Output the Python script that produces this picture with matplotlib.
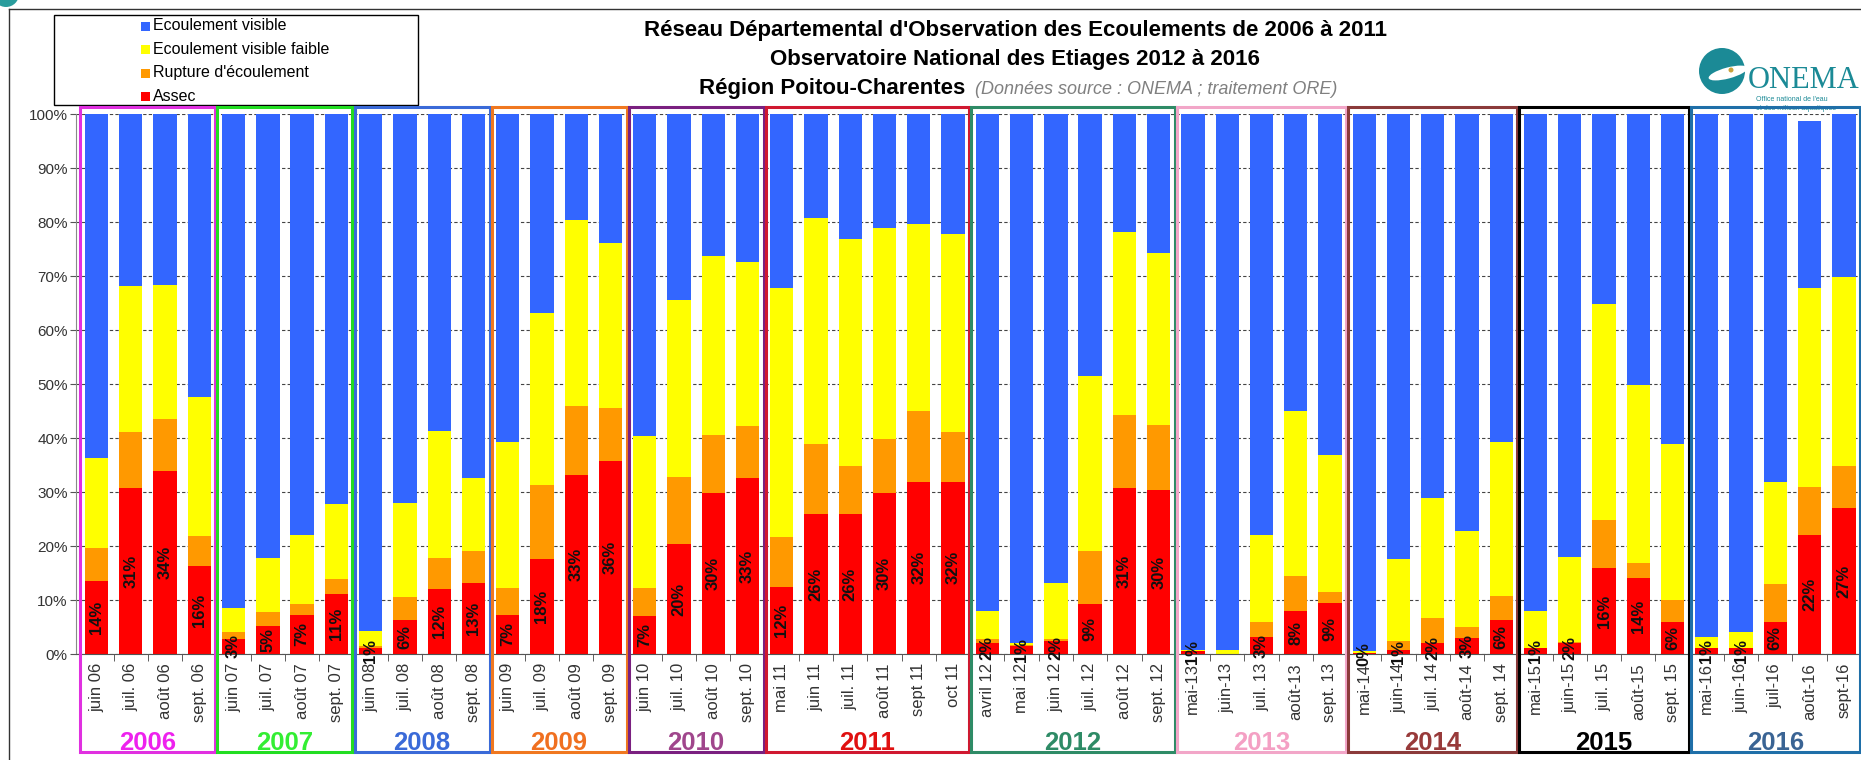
import matplotlib
matplotlib.use('Agg')
import matplotlib.pyplot as plt
import matplotlib.transforms as mtransforms
from matplotlib import font_manager
from matplotlib.patches import Rectangle, Circle, Ellipse
import numpy as np

plt.rcParams['font.family'] = ['Liberation Sans', 'DejaVu Sans']

# month labels (x axis)
months = ['juin 06', 'juil. 06', 'août 06', 'sept. 06',
          'juin 07', 'juil. 07', 'août 07', 'sept. 07',
          'juin 08', 'juil. 08', 'août 08', 'sept. 08',
          'juin 09', 'juil. 09', 'août 09', 'sept. 09',
          'juin 10', 'juil. 10', 'août 10', 'sept. 10',
          'mai 11', 'juin 11', 'juil. 11', 'août 11', 'sept 11', 'oct 11',
          'avril 12', 'mai 12', 'juin 12', 'juil. 12', 'août 12', 'sept. 12',
          'mai-13', 'juin-13', 'juil. 13', 'août-13', 'sept. 13',
          'mai-14', 'juin-14', 'juil. 14', 'août-14', 'sept. 14',
          'mai-15', 'juin-15', 'juil. 15', 'août-15', 'sept. 15',
          'mai-16', 'juin-16', 'juil-16', 'août-16', 'sept-16']

# shares in % (bottom to top: assec, rupture, faible, visible)
assec = [13.6, 30.7, 33.9, 16.3, 2.8, 5.2, 7.3, 11.1, 1.2, 6.3, 12.0, 13.2,
         7.3, 17.6, 33.1, 35.7, 7.1, 20.3, 29.8, 32.6,
         12.4, 25.9, 25.9, 29.9, 31.9, 31.9,
         2.1, 1.4, 2.4, 9.3, 30.7, 30.3,
         0.6, 0.0, 3.1, 7.9, 9.4,
         0.1, 0.8, 2.1, 2.9, 6.3,
         1.1, 2.1, 15.9, 14.0, 5.9,
         1.1, 1.1, 5.9, 22.0, 27.0]
rupture = [6.1, 10.4, 9.7, 5.5, 1.3, 2.6, 1.9, 2.8, 0.2, 4.2, 5.8, 5.8,
           4.9, 13.7, 12.9, 9.9, 5.1, 12.5, 10.8, 9.6,
           9.2, 13.0, 9.0, 10.0, 13.1, 9.3,
           0.7, 0.2, 0.4, 9.7, 13.5, 12.1,
           0.0, 0.0, 2.8, 6.6, 2.0,
           0.0, 1.6, 4.6, 2.1, 4.4,
           0.1, 0.1, 9.0, 2.9, 4.1,
           0.1, 0.1, 7.1, 8.9, 7.9]
faible = [16.6, 27.1, 24.8, 25.8, 4.5, 10.0, 12.9, 13.8, 2.9, 17.5, 23.5, 13.6,
          27.1, 31.8, 34.4, 30.6, 28.1, 32.7, 33.1, 30.4,
          46.1, 41.8, 41.9, 38.9, 34.7, 36.6,
          5.1, 0.5, 10.4, 32.5, 33.9, 31.9,
          0.1, 0.7, 16.1, 30.5, 25.4,
          0.5, 15.2, 22.1, 17.8, 28.6,
          6.7, 15.8, 40.0, 32.9, 28.9,
          1.9, 2.9, 18.9, 36.9, 35.0]
visible = [63.7, 31.8, 31.6, 52.4, 91.4, 82.2, 77.9, 72.3, 95.7, 72.0, 58.7, 67.4,
           60.7, 36.9, 19.6, 23.8, 59.7, 34.5, 26.3, 27.4,
           32.3, 19.3, 23.2, 21.2, 20.3, 22.2,
           92.1, 97.9, 86.8, 48.5, 21.9, 25.7,
           99.3, 99.3, 78.0, 55.0, 63.2,
           99.4, 82.4, 71.2, 77.2, 60.7,
           92.1, 82.0, 35.1, 50.2, 61.1,
           96.9, 95.9, 68.1, 30.9, 30.1]

years = ['2006', '2007', '2008', '2009', '2010', '2011', '2012', '2013', '2014', '2015', '2016']
year_sizes = [4, 4, 4, 4, 4, 6, 6, 5, 5, 5, 5]
year_edge = ['#E030E0', '#22DD22', '#3A6AD8', '#F07820', '#7A2080', '#D01830',
             '#2E8B66', '#F2A6C8', '#8B3A3A', '#000000', '#1F6FA8']
year_text = ['#EE22EE', '#33EE33', '#3A6AD8', '#F07020', '#A0468C', '#E01010',
             '#2E8B66', '#F4A0C4', '#983A3A', '#000000', '#3A6494']

series_names = ['Ecoulement visible', 'Ecoulement visible faible', "Rupture d'écoulement", 'Assec']
series_colors = ['#3366FF', '#FFFF00', '#FF9900', '#FF0000']

W, H = 1861, 760
fig = plt.figure(figsize=(W / 100, H / 100), dpi=100)

# decoration layer in pixel coordinates
deco = fig.add_axes([0, 0, 1, 1], zorder=0)
deco.set_xlim(0, W)
deco.set_ylim(H, 0)
deco.axis('off')

ax = fig.add_axes([76 / W, 106 / H, 1 - 76 / W, 540 / H], zorder=1)

x = np.arange(len(months))
bottom = np.zeros(len(months))
for vals, col in zip([assec, rupture, faible, visible], series_colors[::-1]):
    ax.bar(x, vals, 0.68, bottom=bottom, color=col, zorder=2)
    bottom += np.array(vals)

installed = {f.name for f in font_manager.fontManager.ttflist}
if 'Liberation Sans Narrow' in installed:
    lab_font, lab_size = 'Liberation Sans Narrow', 15
else:
    lab_font, lab_size = 'Liberation Sans', 12

for xi, v in zip(x, assec):
    if v > 0:
        ax.text(xi, v / 2, f"{round(v)}%", rotation=90, ha='center', va='center',
                fontsize=lab_size, fontweight='bold', family=lab_font,
                color='#111111', zorder=4, clip_on=False)

ax.set_xlim(-0.6, 51.14)
ax.set_ylim(0, 100)
ax.set_yticks(range(0, 101, 10))
ax.set_yticklabels([f"{v}%" for v in range(0, 101, 10)])
ax.yaxis.grid(True, linestyle=(0, (3, 2)), color='#444444', lw=0.8)
ax.set_axisbelow(True)
ax.tick_params(axis='y', labelsize=11, labelcolor='#333333', length=4, pad=2, color='#555555')
ax.set_xticks(x)
ax.set_xticklabels(months, rotation=90, fontsize=12, color='#333333')
ax.tick_params(axis='x', which='major', length=0, pad=6.5)
ax.set_xticks(np.arange(-0.5, len(months)), minor=True)
ax.tick_params(axis='x', which='minor', length=5, color='#444444')
for s in ['top', 'right']:
    ax.spines[s].set_visible(False)
ax.spines['bottom'].set_color('#555555')
ax.spines['left'].set_color('#888888')

# year boxes and labels
trans = mtransforms.blended_transform_factory(ax.transData, ax.transAxes)
start = 0
for yr, n, ec, tc in zip(years, year_sizes, year_edge, year_text):
    ax.add_patch(Rectangle((start - 0.47, -0.181), n - 0.06, 1.194, transform=trans,
                           fill=False, ec=ec, lw=2.2, clip_on=False, zorder=5))
    ax.text(start - 0.5 + n / 2, -0.165, yr, transform=trans, ha='center', va='center',
            fontsize=18.5, fontweight='bold', color=tc, clip_on=False)
    start += n

# outer frame
deco.plot([9, 9], [9, H], color='#333333', lw=1)
deco.plot([9, W], [9, 9], color='#333333', lw=1)

# legend
deco.add_patch(Rectangle((54, 15), 364, 90, fill=False, ec='black', lw=1))
for i, (name, col) in enumerate(zip(series_names, series_colors)):
    yc = 26 + 23.5 * i
    deco.add_patch(Rectangle((141, yc - 4.5), 9, 9, fc=col, ec='none'))
    deco.text(153, yc, name, fontsize=11.5, ha='left', va='center')

# title
deco.text(1015, 36, "Réseau Départemental d'Observation des Ecoulements de 2006 à 2011",
          ha='center', va='baseline', fontsize=16, fontweight='bold')
deco.text(1015, 65, "Observatoire National des Etiages 2012 à 2016",
          ha='center', va='baseline', fontsize=16, fontweight='bold')
deco.text(965, 94, "Région Poitou-Charentes", ha='right', va='baseline',
          fontsize=16, fontweight='bold')
deco.text(975, 94, "(Données source : ONEMA ; traitement ORE)", ha='left', va='baseline',
          fontsize=13, style='italic', color='#808080')

# ONEMA logo
teal = '#1B8A96'
deco.add_patch(Circle((1722, 71), 23, fc=teal, ec='none'))
deco.add_patch(Ellipse((1728, 73), 40, 11, angle=-15, fc='white', ec='none'))
deco.add_patch(Circle((1731, 70), 2.5, fc='#C8A23C', ec='none'))
deco.text(1748, 88, 'ONEMA', family=['Liberation Serif', 'DejaVu Serif'], fontsize=22,
          color=teal, va='baseline', ha='left')
deco.text(1756, 101, "Office national de l'eau", fontsize=5, color=teal, va='baseline')
deco.text(1756, 110, "et des milieux aquatiques", fontsize=5, color=teal, va='baseline')

# corner logo piece
deco.add_patch(Circle((6, -6), 13, fc='#2A9D9D', ec='none'))

fig.savefig('out.png', dpi=100)
